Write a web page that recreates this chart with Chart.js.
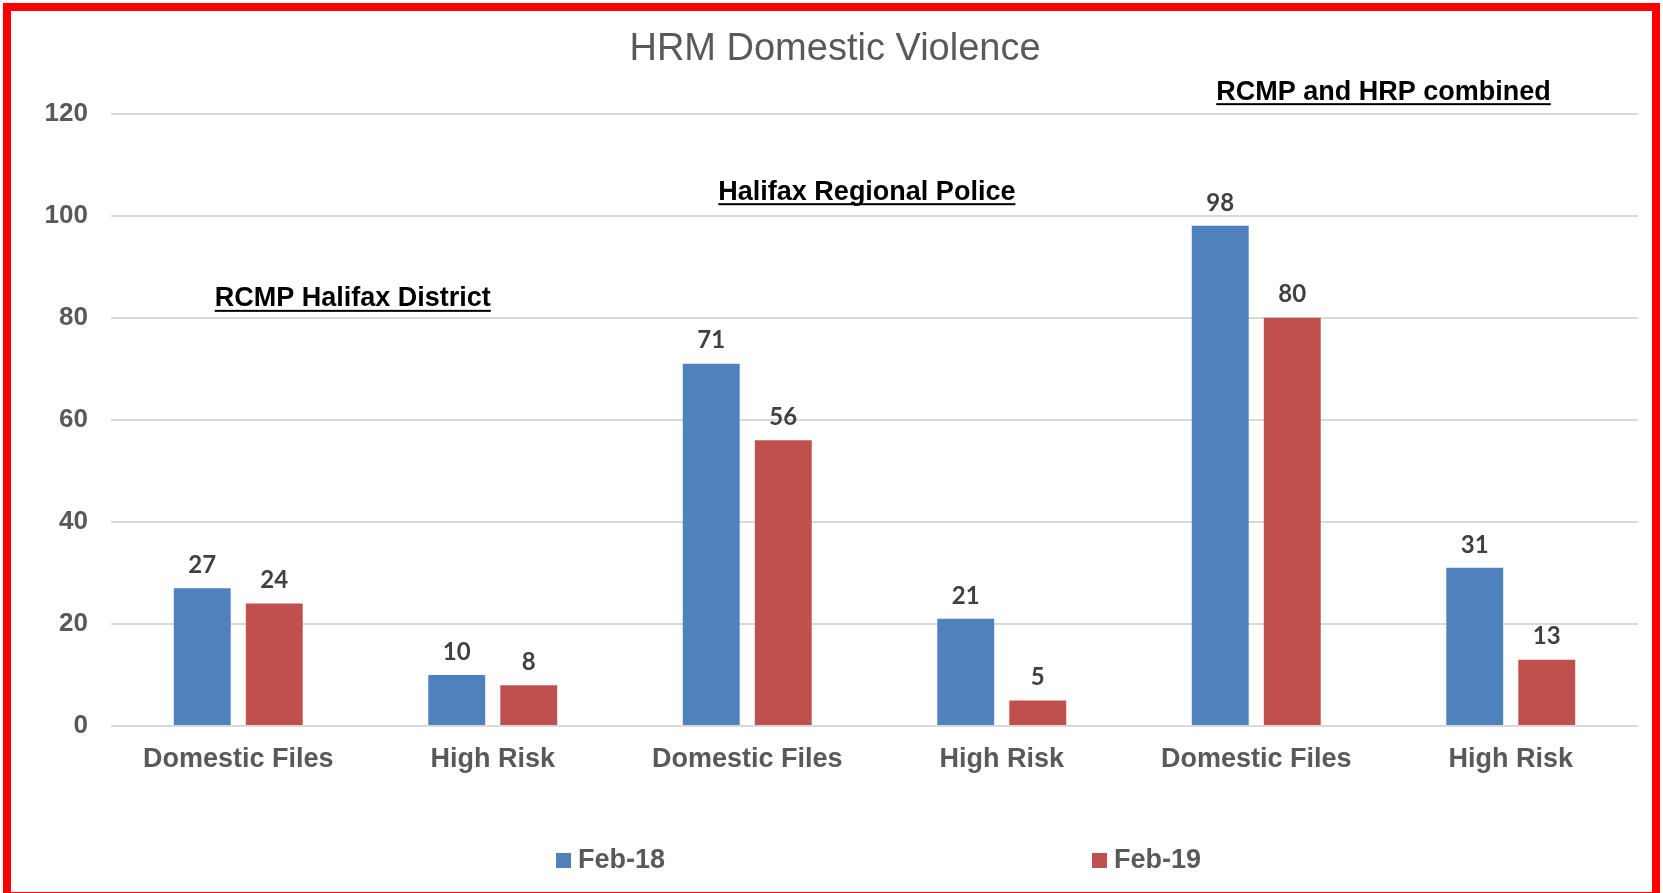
<!DOCTYPE html>
<html>
<head>
<meta charset="utf-8">
<title>HRM Domestic Violence</title>
<script src="https://cdn.jsdelivr.net/npm/chart.js@4.4.1/dist/chart.umd.min.js"></script>
<style>
  html, body { margin: 0; padding: 0; background: #fff; }
  #wrap { position: relative; width: 1663px; height: 893px; overflow: hidden; }
  #frame { position: absolute; left: 3px; top: 3px; width: 1657px; height: 897px;
           border: 8px solid #ff0000; box-sizing: border-box; pointer-events: none; }
</style>
</head>
<body>
<div id="wrap">
  <canvas id="chart" width="1663" height="893"></canvas>
  <div id="frame"></div>
</div>
<script>
// data
const categories = ["Domestic Files", "High Risk", "Domestic Files", "High Risk", "Domestic Files", "High Risk"];
const seriesNames = ["Feb-18", "Feb-19"];
const feb18 = [27, 10, 71, 21, 98, 31];
const feb19 = [24, 8, 56, 5, 80, 13];
const yTicks = [0, 20, 40, 60, 80, 100, 120];
const groupLabels = ["RCMP Halifax District", "Halifax Regional Police", "RCMP and HRP combined"];

// where the group headings sit (category index, y value)
const groupSpots = [
  { x: 0.45, y: 83.7 },
  { x: 2.47, y: 104.6 },
  { x: 4.5, y: 124.2 }
];

const blue = "#4f81bd";
const red = "#c0504d";
const grey = "#595959";
const font = "'Liberation Sans', Arial, sans-serif";

// value labels over the bars
const barLabels = {
  id: "barLabels",
  afterDatasetsDraw(chart) {
    const ctx = chart.ctx;
    ctx.save();
    ctx.font = "bold 24px Lato, 'Liberation Sans', sans-serif";
    ctx.fillStyle = "#404040";
    ctx.textAlign = "center";
    ctx.textBaseline = "bottom";
    chart.data.datasets.forEach((ds, i) => {
      chart.getDatasetMeta(i).data.forEach((bar, j) => {
        ctx.fillText(ds.data[j], bar.x, bar.y - 11);
      });
    });
    ctx.restore();
  }
};

// underlined group headings on white boxes
const groupHeadings = {
  id: "groupHeadings",
  afterDraw(chart) {
    const ctx = chart.ctx;
    const xs = chart.scales.x, ys = chart.scales.y;
    ctx.save();
    ctx.font = "bold 27px " + font;
    ctx.textAlign = "center";
    ctx.textBaseline = "middle";
    groupLabels.forEach((txt, i) => {
      const cx = xs.getPixelForValue(groupSpots[i].x);
      const cy = ys.getPixelForValue(groupSpots[i].y);
      const w = ctx.measureText(txt).width;
      ctx.fillStyle = "#fff";
      ctx.fillRect(cx - w / 2 - 55, cy - 18, w + 110, 32);
      ctx.fillStyle = "#000";
      ctx.fillText(txt, cx, cy);
      ctx.fillRect(cx - w / 2, cy + 11, w, 2);
    });
    ctx.restore();
  }
};

// legend spread out under the plot like the original
const wideLegend = {
  id: "wideLegend",
  afterDraw(chart) {
    const ctx = chart.ctx;
    const starts = [556, 1092];
    const cy = 861;
    ctx.save();
    ctx.font = "bold 27px " + font;
    ctx.textBaseline = "middle";
    ctx.textAlign = "left";
    chart.data.datasets.forEach((ds, i) => {
      ctx.fillStyle = ds.backgroundColor;
      ctx.fillRect(starts[i], cy - 8, 15, 15);
      ctx.fillStyle = grey;
      ctx.fillText(ds.label, starts[i] + 22, cy);
    });
    ctx.restore();
  }
};

const ctx = document.getElementById("chart").getContext("2d");
const chart = new Chart(ctx, {
  type: "bar",
  data: {
    labels: categories,
    datasets: [
      { label: seriesNames[0], data: feb18, backgroundColor: blue },
      { label: seriesNames[1], data: feb19, backgroundColor: red }
    ]
  },
  options: {
    responsive: false,
    animation: false,
    events: [],
    categoryPercentage: 0.566,
    barPercentage: 0.79,
    layout: { padding: { left: 32, right: 25, top: 0, bottom: 67 } },
    plugins: {
      legend: { display: false },
      tooltip: { enabled: false },
      title: {
        display: true,
        text: "HRM Domestic Violence",
        color: grey,
        font: { family: font, size: 38, weight: "normal" },
        padding: { top: 27, bottom: 41 }
      }
    },
    scales: {
      x: {
        grid: { display: false, drawTicks: false },
        border: { display: false },
        ticks: { color: grey, font: { family: font, size: 27, weight: "bold" }, padding: 17, maxRotation: 0 },
        afterFit(scale) { scale.height = 100; }
      },
      y: {
        min: 0,
        max: 120,
        afterBuildTicks(scale) { scale.ticks = yTicks.map(v => ({ value: v })); },
        grid: { color: "#d9d9d9", lineWidth: 2, drawTicks: false },
        border: { display: false },
        ticks: { color: grey, font: { family: font, size: 26, weight: "bold" }, padding: 23 },
        afterFit(scale) { scale.width = 79; }
      }
    }
  },
  plugins: [barLabels, groupHeadings, wideLegend]
});
</script>
</body>
</html>
